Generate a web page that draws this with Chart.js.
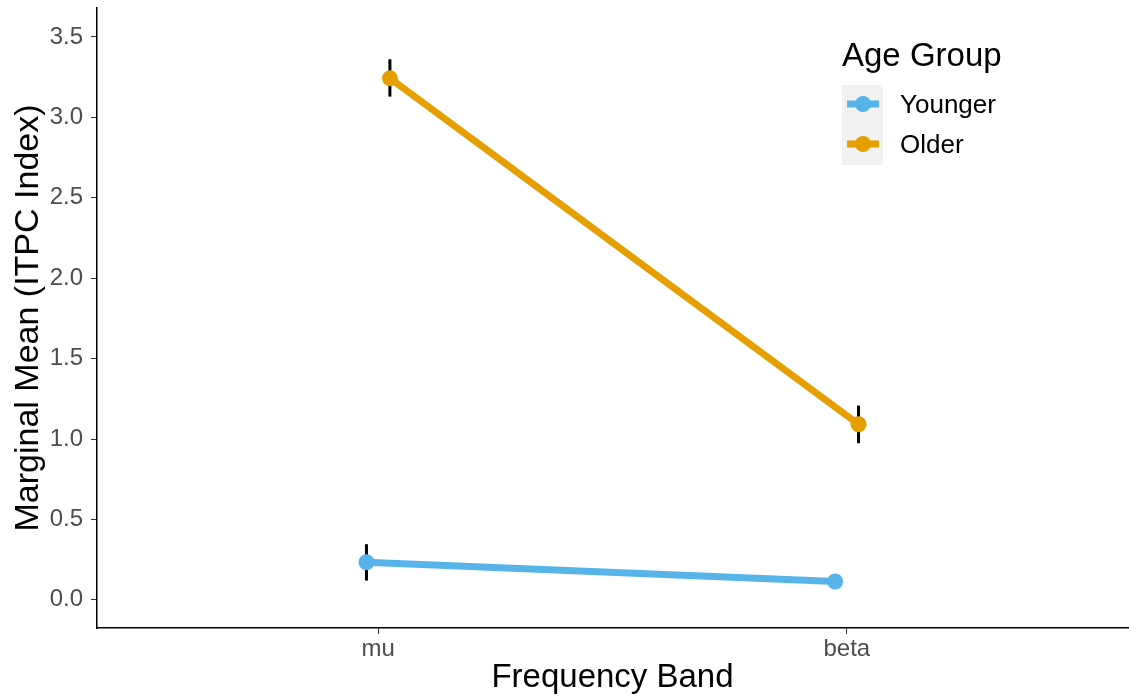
<!DOCTYPE html>
<html>
<head>
<meta charset="utf-8">
<script src="https://cdn.jsdelivr.net/npm/chart.js@4"></script>
<style>
  html, body { margin: 0; padding: 0; background: #fff; }
  #wrap { width: 1129px; height: 698px; }
</style>
</head>
<body>
<div id="wrap"><canvas id="chart" width="1129" height="698"></canvas></div>
<script>
// data
var bands = ['mu', 'beta'];
var groups = ['Younger', 'Older'];
var youngerMean = [0.234, 0.114];
var youngerLow = [0.120, 0.085];
var youngerHigh = [0.346, 0.143];
var olderMean = [3.243, 1.092];
var olderLow = [3.129, 0.974];
var olderHigh = [3.361, 1.208];
var yTicks = [0, 0.5, 1, 1.5, 2, 2.5, 3, 3.5];

var colors = ['#56B4E9', '#E69F00'];
var dodge = [-0.025, 0.025];
var FONT = '"Liberation Sans", Arial, sans-serif';

function pts(means, k) {
    return means.map(function (v, i) { return { x: i + 1 + dodge[k], y: v }; });
}

var errBars = [
    { low: youngerLow, high: youngerHigh, k: 0 },
    { low: olderLow, high: olderHigh, k: 1 }
];

// error bars under the points
var errorBarPlugin = {
    id: 'errorBars',
    beforeDatasetsDraw: function (chart) {
        var c = chart.ctx, xs = chart.scales.x, ys = chart.scales.y;
        c.save();
        c.strokeStyle = '#000';
        c.lineWidth = 3;
        errBars.forEach(function (e) {
            for (var i = 0; i < bands.length; i++) {
                var px = xs.getPixelForValue(i + 1 + dodge[e.k]);
                c.beginPath();
                c.moveTo(px, ys.getPixelForValue(e.low[i]));
                c.lineTo(px, ys.getPixelForValue(e.high[i]));
                c.stroke();
            }
        });
        c.restore();
    }
};

// ggplot style legend
var legendPlugin = {
    id: 'ggLegend',
    afterDraw: function (chart) {
        var c = chart.ctx;
        c.save();
        c.fillStyle = '#000';
        c.font = '33px ' + FONT;
        c.textBaseline = 'alphabetic';
        c.textAlign = 'left';
        c.fillText('Age Group', 842, 66);
        c.fillStyle = '#F2F2F2';
        c.fillRect(842, 85, 41, 80);
        groups.forEach(function (g, k) {
            var cy = 104 + k * 40;
            c.strokeStyle = colors[k];
            c.lineWidth = 7;
            c.beginPath();
            c.moveTo(847, cy);
            c.lineTo(879, cy);
            c.stroke();
            c.fillStyle = colors[k];
            c.beginPath();
            c.arc(863, cy, 8, 0, Math.PI * 2);
            c.fill();
            c.fillStyle = '#000';
            c.font = '26px ' + FONT;
            c.fillText(g, 900, cy + 9);
        });
        c.restore();
    }
};

var ctx = document.getElementById('chart').getContext('2d');
var chart = new Chart(ctx, {
    type: 'line',
    data: {
        datasets: [{
            label: groups[0],
            data: pts(youngerMean, 0),
            borderColor: colors[0],
            backgroundColor: colors[0],
            borderWidth: 7,
            pointRadius: 8,
            pointBorderWidth: 0,
            pointHoverRadius: 8
        }, {
            label: groups[1],
            data: pts(olderMean, 1),
            borderColor: colors[1],
            backgroundColor: colors[1],
            borderWidth: 7,
            pointRadius: 8,
            pointBorderWidth: 0,
            pointHoverRadius: 8
        }]
    },
    options: {
        responsive: false,
        animation: false,
        layout: { autoPadding: false, padding: { top: 8, right: 1, left: 0, bottom: 0 } },
        plugins: {
            legend: { display: false },
            tooltip: { enabled: false }
        },
        scales: {
            x: {
                type: 'linear',
                min: 0.4,
                max: 2.6,
                afterBuildTicks: function (s) {
                    s.ticks = bands.map(function (b, i) { return { value: i + 1 }; });
                },
                afterFit: function (s) {
                    s.height = 70;
                    s.paddingLeft = 0;
                    s.paddingRight = 0;
                },
                ticks: {
                    callback: function (v) { return bands[v - 1]; },
                    font: { family: FONT, size: 24 },
                    color: '#4D4D4D',
                    padding: 1,
                    maxRotation: 0
                },
                grid: { drawOnChartArea: false, drawTicks: true, tickLength: 6, color: '#333' },
                border: { display: true, color: '#000', width: 1.5 },
                title: {
                    display: true,
                    text: 'Frequency Band',
                    font: { family: FONT, size: 33 },
                    color: '#000',
                    padding: { top: 0, bottom: 0 }
                }
            },
            y: {
                min: -0.175,
                max: 3.68,
                afterBuildTicks: function (s) {
                    s.ticks = yTicks.map(function (v) { return { value: v }; });
                },
                afterFit: function (s) {
                    s.width = 97;
                    s.paddingTop = 0;
                    s.paddingBottom = 0;
                },
                ticks: {
                    callback: function (v) { return v.toFixed(1); },
                    font: { family: FONT, size: 24 },
                    color: '#4D4D4D',
                    padding: 8
                },
                grid: { drawOnChartArea: false, drawTicks: true, tickLength: 6, color: '#333' },
                border: { display: true, color: '#000', width: 1.5 },
                title: {
                    display: true,
                    text: 'Marginal Mean (ITPC Index)',
                    font: { family: FONT, size: 34 },
                    color: '#000',
                    padding: { top: 8, bottom: 0 }
                }
            }
        }
    },
    plugins: [errorBarPlugin, legendPlugin]
});
</script>
</body>
</html>
